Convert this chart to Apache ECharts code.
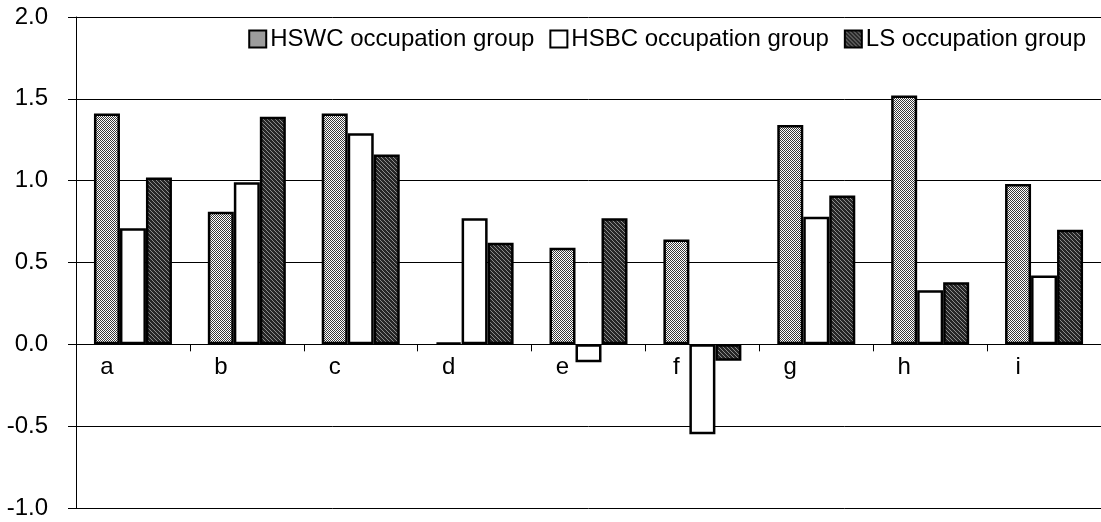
<!DOCTYPE html>
<html>
<head>
<meta charset="utf-8">
<style>
  html, body { margin: 0; padding: 0; background: #fff; }
  #chart { width: 1101px; height: 522px; }
</style>
<script src="https://cdn.jsdelivr.net/npm/echarts@6/dist/echarts.min.js"></script>
</head>
<body>
<div id="chart"></div>
<script>
// Categories and the three occupation-group series
const categories = ['a', 'b', 'c', 'd', 'e', 'f', 'g', 'h', 'i'];
const hswc = [1.41, 0.81, 1.41, 0.01, 0.59, 0.64, 1.34, 1.52, 0.98];
const hsbc = [0.71, 0.99, 1.29, 0.77, -0.11, -0.55, 0.78, 0.33, 0.42];
const ls   = [1.02, 1.39, 1.16, 0.62, 0.77, -0.10, 0.91, 0.38, 0.70];
const seriesNames = ['HSWC occupation group', 'HSBC occupation group', 'LS occupation group'];
const yTicks = { min: -1.0, max: 2.0, step: 0.5 };

// Fine dotted grey fill
function dotPattern() {
  const c = document.createElement('canvas');
  c.width = 2; c.height = 2;
  const g = c.getContext('2d');
  g.fillStyle = '#ffffff'; g.fillRect(0, 0, 2, 2);
  g.fillStyle = '#3a3a3a';
  g.fillRect(0, 0, 1, 1); g.fillRect(1, 1, 1, 1);
  return { image: c, repeat: 'repeat' };
}
// Dark diagonal hatch fill
function hatchPattern() {
  const c = document.createElement('canvas');
  c.width = 4; c.height = 4;
  const g = c.getContext('2d');
  g.fillStyle = '#262626'; g.fillRect(0, 0, 4, 4);
  g.fillStyle = '#8c8c8c';
  for (let i = 0; i < 4; i++) g.fillRect(i, i, 1, 1);
  return { image: c, repeat: 'repeat' };
}

const font = 'Arial, "Liberation Sans", sans-serif';
const fontSize = 24;
const gridTop = 17, gridBottom = 14, chartH = 522;
const plotH = chartH - gridTop - gridBottom;
// distance from the bottom of the plot up to the zero line
const zeroLift = plotH * (0 - yTicks.min) / (yTicks.max - yTicks.min);

const chart = echarts.init(document.getElementById('chart'), null, { renderer: 'canvas' });

const barBase = { type: 'bar', barWidth: 26, barGap: '0%', animation: false };
const border = { borderColor: '#000', borderWidth: 2.5 };

chart.setOption({
  backgroundColor: '#fff',
  animation: false,
  grid: { left: 76, right: -6, top: gridTop, bottom: gridBottom, containLabel: false },
  legend: {
    top: 22, right: 10,
    itemWidth: 17, itemHeight: 17, itemGap: 15,
    icon: 'rect',
    textStyle: { fontFamily: font, fontSize: fontSize, color: '#000', padding: [0, 0, 0, -1] },
    data: seriesNames
  },
  xAxis: {
    type: 'category',
    data: categories,
    offset: -zeroLift,
    axisLine: { onZero: false, lineStyle: { color: '#000', width: 1 } },
    axisTick: { show: true, length: 7, lineStyle: { color: '#000' } },
    axisLabel: {
      margin: 11,
      fontFamily: font, fontSize: fontSize, color: '#000',
      formatter: v => '{s|' + v + '}',
      rich: { s: { fontFamily: font, fontSize: fontSize, color: '#000', padding: [0, 52, 0, 0] } }
    },
    splitLine: { show: false }
  },
  yAxis: {
    type: 'value',
    min: yTicks.min, max: yTicks.max, interval: yTicks.step,
    axisLine: { show: true, lineStyle: { color: '#000', width: 1 } },
    axisTick: { show: true, inside: false, length: 8, lineStyle: { color: '#000' } },
    axisLabel: {
      margin: 28,
      fontFamily: font, fontSize: fontSize, color: '#000',
      formatter: v => v.toFixed(1)
    },
    splitLine: { show: true, lineStyle: { color: '#000', width: 1 } }
  },
  series: [
    Object.assign({}, barBase, { name: seriesNames[0], data: hswc,
      itemStyle: Object.assign({ color: dotPattern() }, border) }),
    Object.assign({}, barBase, { name: seriesNames[1], data: hsbc,
      itemStyle: Object.assign({ color: '#ffffff' }, border) }),
    Object.assign({}, barBase, { name: seriesNames[2], data: ls,
      itemStyle: Object.assign({ color: hatchPattern() }, border) })
  ]
});
</script>
</body>
</html>
